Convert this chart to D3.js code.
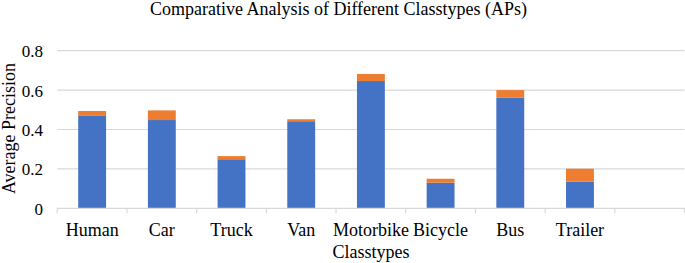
<!DOCTYPE html>
<html>
<head>
<meta charset="utf-8">
<script src="https://cdn.jsdelivr.net/npm/d3@7"></script>
<style>
  body { margin: 0; background: #fff; }
  text { font-family: "Liberation Serif", "Times New Roman", serif; fill: #000; }
</style>
</head>
<body>
<svg id="chart" width="685" height="263"></svg>
<script>
const classtypes = ["Human", "Car", "Truck", "Van", "Motorbike", "Bicycle", "Bus", "Trailer", ""];
const baseAP = [0.469, 0.448, 0.249, 0.442, 0.646, 0.130, 0.561, 0.135, null];
const extraAP = [0.025, 0.049, 0.016, 0.010, 0.036, 0.020, 0.039, 0.066, null];
const yTicks = [0, 0.2, 0.4, 0.6, 0.8];

const svg = d3.select("#chart");
const margin = { left: 57.3, right: 0.5, top: 50.7, bottom: 54.7 };
const width = 685, height = 263;

// one band per category, bars take 40% of the band
const x = d3.scaleBand()
  .domain(d3.range(classtypes.length))
  .range([margin.left, width - margin.right])
  .paddingInner(0)
  .paddingOuter(0);
const bw = x.bandwidth() * 0.4;

const y = d3.scaleLinear()
  .domain([0, 0.8])
  .range([height - margin.bottom, margin.top]);

// gridlines
svg.append("g")
  .selectAll("line")
  .data(yTicks.slice(1))
  .join("line")
  .attr("x1", margin.left)
  .attr("x2", width - margin.right)
  .attr("y1", d => y(d))
  .attr("y2", d => y(d))
  .attr("stroke", "#d9d9d9")
  .attr("stroke-width", 1.2);

// bars
const rows = classtypes.map((c, i) => ({ i, base: baseAP[i], extra: extraAP[i] }))
  .filter(d => d.base != null);
const bx = d => x(d.i) + (x.bandwidth() - bw) / 2;

svg.append("g")
  .selectAll("rect")
  .data(rows)
  .join("rect")
  .attr("x", bx)
  .attr("width", bw)
  .attr("y", d => y(d.base))
  .attr("height", d => y(0) - y(d.base))
  .attr("fill", "#4472c4");

svg.append("g")
  .selectAll("rect")
  .data(rows)
  .join("rect")
  .attr("x", bx)
  .attr("width", bw)
  .attr("y", d => y(d.base + d.extra))
  .attr("height", d => y(d.base) - y(d.base + d.extra))
  .attr("fill", "#ed7d31");

// x axis line and ticks between categories
const axisG = svg.append("g");
axisG.append("line")
  .attr("x1", margin.left)
  .attr("x2", width - margin.right)
  .attr("y1", y(0))
  .attr("y2", y(0))
  .attr("stroke", "#d9d9d9")
  .attr("stroke-width", 1.2);
axisG.selectAll("line.tick")
  .data(d3.range(classtypes.length + 1))
  .join("line")
  .attr("class", "tick")
  .attr("x1", i => margin.left + i * x.step())
  .attr("x2", i => margin.left + i * x.step())
  .attr("y1", y(0))
  .attr("y2", y(0) + 5)
  .attr("stroke", "#d9d9d9")
  .attr("stroke-width", 1.2);

// x labels
svg.append("g")
  .selectAll("text")
  .data(classtypes)
  .join("text")
  .attr("x", (d, i) => x(i) + x.bandwidth() / 2)
  .attr("y", 236)
  .attr("text-anchor", "middle")
  .style("font-size", "18px")
  .text(d => d);

// y labels
svg.append("g")
  .selectAll("text")
  .data(yTicks)
  .join("text")
  .attr("x", 43)
  .attr("y", d => y(d) + 6.5)
  .attr("text-anchor", "end")
  .style("font-size", "17px")
  .text(d => d === 0 ? "0" : d.toFixed(1));

// titles
svg.append("text")
  .attr("x", 338.5)
  .attr("y", 14.5)
  .attr("text-anchor", "middle")
  .style("font-size", "18px")
  .text("Comparative Analysis of Different Classtypes (APs)");

svg.append("text")
  .attr("x", 371)
  .attr("y", 258)
  .attr("text-anchor", "middle")
  .style("font-size", "18px")
  .text("Classtypes");

svg.append("text")
  .attr("transform", "translate(15,128.5) rotate(-90)")
  .attr("text-anchor", "middle")
  .style("font-size", "18px")
  .text("Average Precision");
</script>
</body>
</html>
